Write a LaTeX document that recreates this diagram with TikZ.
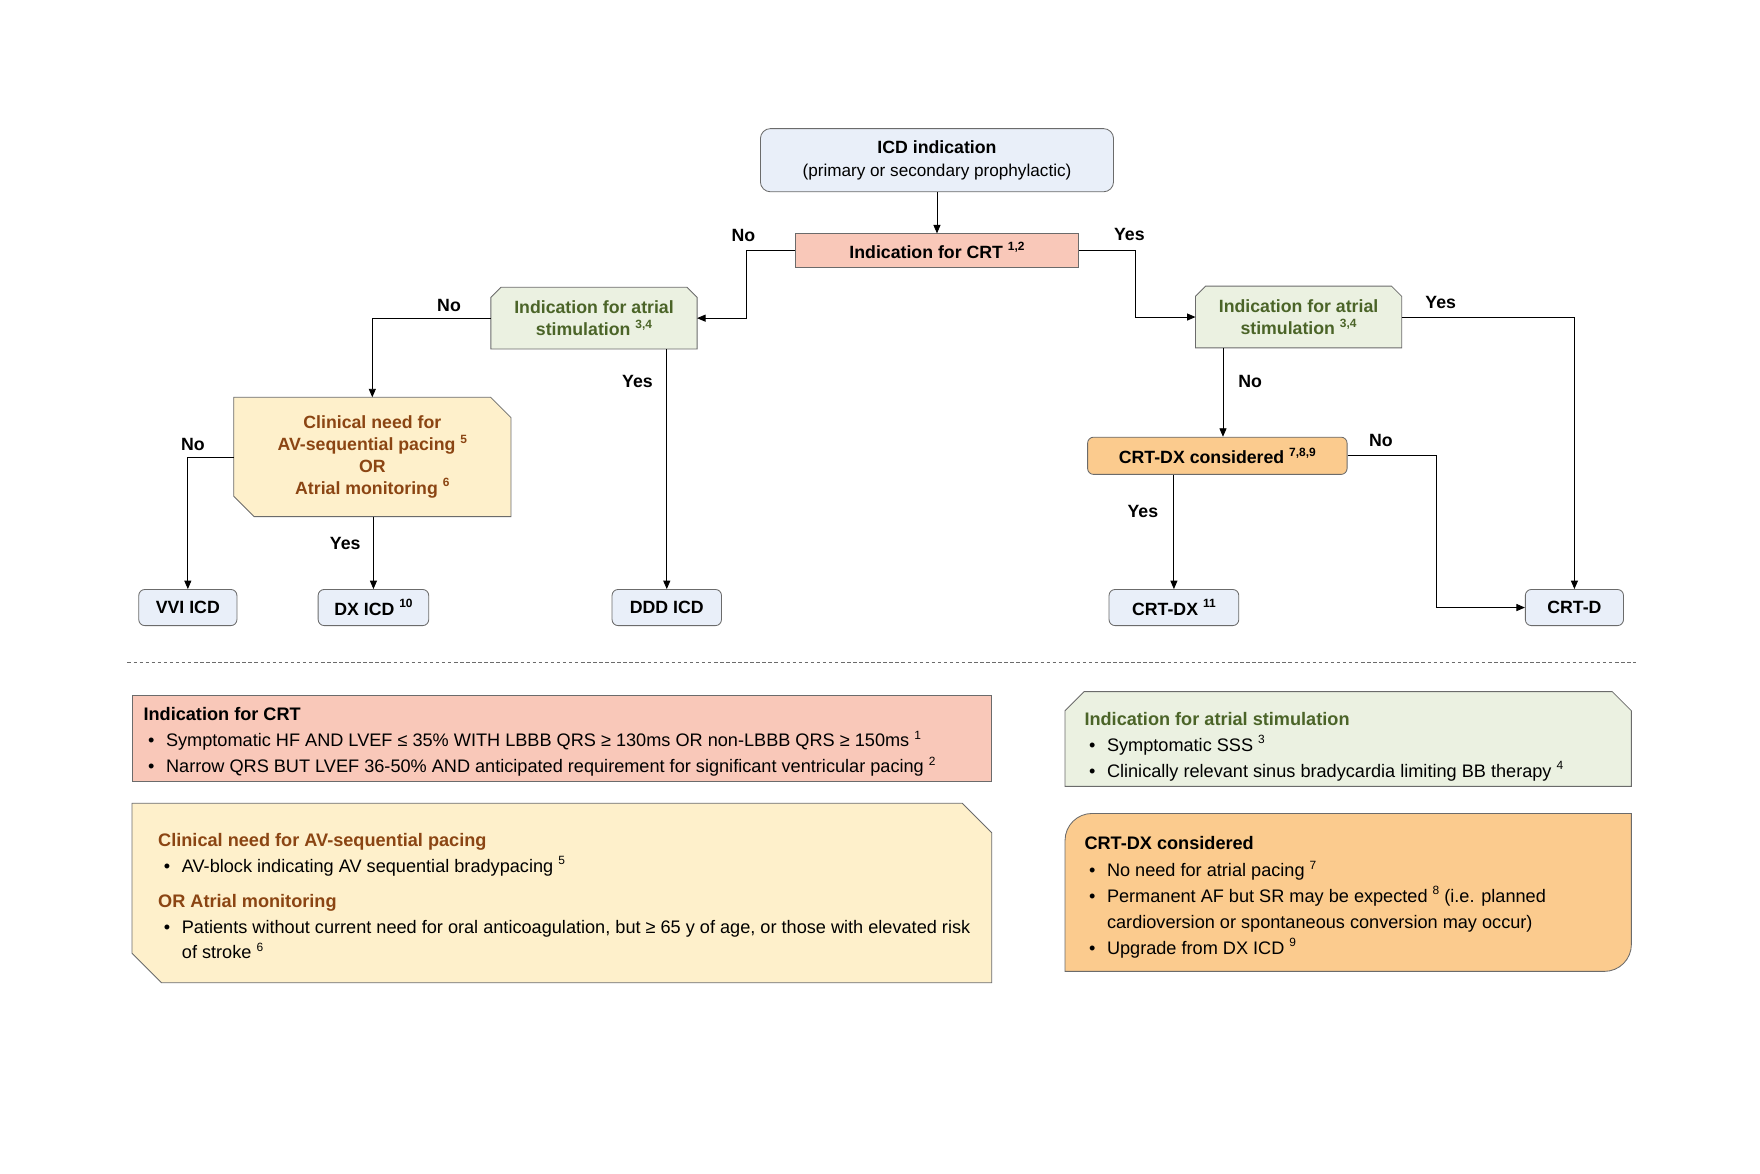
\documentclass[tikz,border=0pt]{standalone}
\usepackage{fontspec}
\setmainfont{Liberation Sans}
\usetikzlibrary{arrows.meta,backgrounds,positioning}

\definecolor{framegray}{HTML}{6B6B6B}
\definecolor{devblue}{HTML}{E9EFF9}
\definecolor{crtpink}{HTML}{F9C8B9}
\definecolor{atrialfill}{HTML}{EBF1E1}
\definecolor{atrialtext}{HTML}{4B6428}
\definecolor{needfill}{HTML}{FEF0CB}
\definecolor{needtext}{HTML}{8B4513}
\definecolor{dxorange}{HTML}{FBCB8E}

\newcommand{\px}{0.0282cm}
\newcommand{\refnum}[1]{\raisebox{0.42em}{\fontsize{8.5}{8.5}\selectfont #1}}
\newcommand{\bul}{\makebox[12.8pt][l]{\textbullet}}

\tikzset{
  box/.style={draw=framegray, line width=0.6pt, align=center, inner sep=0pt,
    font=\fontsize{12.6}{16.8}\selectfont\bfseries},
  icdbox/.style={box, fill=devblue, rounded corners=0.25cm,
    minimum width=313*\px, minimum height=56*\px},
  crtbox/.style={box, fill=crtpink, minimum width=251*\px, minimum height=29.5*\px},
  % chamfered frames are drawn on the background layer
  atrialbox/.style={box, draw=none, text=atrialtext, font=\fontsize{12.6}{16}\selectfont\bfseries,
    minimum width=182*\px, minimum height=54*\px},
  needbox/.style={box, draw=none, text=needtext, font=\fontsize{12.6}{15.5}\selectfont\bfseries,
    minimum width=245*\px, minimum height=105*\px},
  chamframe/.style={draw=framegray, line width=0.6pt},
  dxcbox/.style={box, fill=dxorange, rounded corners=0.15cm,
    minimum width=230*\px, minimum height=33*\px},
  devbox/.style={box, fill=devblue, rounded corners=0.15cm, minimum height=32*\px},
  lbl/.style={inner sep=0pt, font=\fontsize{12.6}{15}\selectfont\bfseries},
  flow/.style={line width=0.6pt, -{Triangle[length=6pt,width=5pt]}},
  legbox/.style={draw=framegray, line width=0.6pt},
  legtitle/.style={anchor=base west, inner sep=0pt, font=\fontsize{12.9}{15}\selectfont\bfseries},
  legitem/.style={anchor=base west, inner sep=0pt, font=\fontsize{12.9}{15}\selectfont},
}

\begin{document}
\begin{tikzpicture}[x=0.0282cm, y=-0.0282cm]
\useasboundingbox (0,0) rectangle (1560,1040);

% flowchart
\node[icdbox] (icd) at (830.5,142) {ICD indication\\{\mdseries\fontsize{12.2}{16.8}\selectfont (primary or secondary prophylactic)}};
\node[crtbox] (crt) at (830.5,222) {Indication for CRT \refnum{1,2}};
\node[atrialbox] (atl) at (526.5,282) {Indication for atrial\\stimulation \refnum{3,4}};
\node[atrialbox] (atr) at (1151,281) {Indication for atrial\\stimulation \refnum{3,4}};
\node[needbox] (need) at (330,405) {Clinical need for\\AV-sequential pacing \refnum{5}\\OR\\Atrial monitoring \refnum{6}};
\node[dxcbox] (dxc) at (1079,404) {CRT-DX considered \refnum{7,8,9}};

\node[devbox, minimum width=87*\px] (vvi) at (166.5,538.5) {VVI ICD};
\node[devbox, minimum width=98*\px] (dx) at (331,538.5) {DX ICD \refnum{10}};
\node[devbox, minimum width=97*\px] (ddd) at (591,538.5) {DDD ICD};
\node[devbox, minimum width=115*\px] (crtdx) at (1040.5,538.5) {CRT-DX \refnum{11}};
\node[devbox, minimum width=87*\px] (crtd) at (1395.5,538.5) {CRT-D};

\begin{scope}[on background layer]
\foreach \n in {atl,atr}
  \draw[chamframe, fill=atrialfill] (\n.south west) -- ([yshift=-9*\px]\n.north west)
    -- ([xshift=9*\px]\n.north west) -- ([xshift=-9*\px]\n.north east)
    -- ([yshift=-9*\px]\n.north east) -- (\n.south east) -- cycle;
\draw[chamframe, fill=needfill] (need.north west) -- ([xshift=-18*\px]need.north east)
  -- ([yshift=-18*\px]need.north east) -- (need.south east)
  -- ([xshift=18*\px]need.south west) -- ([yshift=18*\px]need.south west) -- cycle;
\end{scope}

\coordinate (dxin) at (1084,0);

\draw[flow] (icd) -- (crt);
\draw[flow] (crt.west) -- ++(-43,0) |- (atl.east);
\draw[flow] (crt.east) -- ++(50,0) |- (atr.west);
\draw[flow] (atl.west) -| (need.north);
\draw[flow] (atl.south -| ddd) -- (ddd);
\draw[flow] (need.west) -| (vvi.north);
\draw[flow] (need.south -| dx) -- (dx);
\draw[flow] (atr.east) -| (crtd.north);
\draw[flow] (atr.south -| dxin) -- (dxc.north -| dxin);
\draw[flow] (dxc.east) -- ++(79,0) |- (crtd.west);
\draw[flow] (dxc.south -| crtdx) -- (crtdx);

\node[lbl] (crtno) at (659,209) {No};
\node[lbl] (crtyes) at (1001,208) {Yes};
\node[lbl] (atlno) at (398,271) {No};
\node[lbl] (atlyes) at (565,338) {Yes};
\node[lbl] (needno) at (171,394) {No};
\node[lbl] (needyes) at (306,482) {Yes};
\node[lbl] (atryes) at (1277,268) {Yes};
\node[lbl] (atrno) at (1108,338) {No};
\node[lbl] (dxcno) at (1224,390) {No};
\node[lbl] (dxcyes) at (1013,453) {Yes};

\draw[framegray, line width=0.6pt, dash pattern=on 2.5pt off 1.8pt] (113,587) -- (1450,587);

% legend
\draw[legbox, fill=crtpink] (117,616) rectangle (879,693);
\node[legtitle] (crtlegt) at (127,639) {Indication for CRT};
\node[legitem] (crtlega) at (131,662) {\bul Symptomatic HF AND LVEF ≤ 35\% WITH LBBB QRS ≥ 130ms OR non-LBBB QRS ≥ 150ms \refnum{1}};
\node[legitem] (crtlegb) at (131,685) {\bul Narrow QRS BUT LVEF 36-50\% AND anticipated requirement for significant ventricular pacing \refnum{2}};

\draw[legbox, fill=needfill] (117,712) -- (853,712) -- (879,738) -- (879,871) -- (143,871) -- (117,845) -- cycle;
\node[legtitle, text=needtext] (needlegt) at (140,750) {Clinical need for AV-sequential pacing};
\node[legitem] (needlega) at (145,773) {\bul AV-block indicating AV sequential bradypacing \refnum{5}};
\node[legtitle, text=needtext] (needlegu) at (140,804) {OR Atrial monitoring};
\node[legitem] (needlegb) at (145,827) {\bul Patients without current need for oral anticoagulation, but ≥ 65 y of age, or those with elevated risk};
\node[legitem] (needlegc) at (161,850) {of stroke \refnum{6}};

\draw[legbox, fill=atrialfill] (944,630) -- (961,613) -- (1429,613) -- (1446,630) -- (1446,697) -- (944,697) -- cycle;
\node[legtitle, text=atrialtext] (atrlegt) at (961,643) {Indication for atrial stimulation};
\node[legitem] (atrlega) at (965,666) {\bul Symptomatic SSS \refnum{3}};
\node[legitem] (atrlegb) at (965,689) {\bul Clinically relevant sinus bradycardia limiting BB therapy \refnum{4}};

\draw[legbox, fill=dxorange] (944,861) -- (944,745) .. controls (944,731.7) and (954.7,721) .. (968,721)
  -- (1446,721) -- (1446,837) .. controls (1446,850.3) and (1435.3,861) .. (1422,861) -- cycle;
\node[legtitle] (dxlegt) at (961,753) {CRT-DX considered};
\node[legitem] (dxlega) at (965,777) {\bul No need for atrial pacing \refnum{7}};
\node[legitem] (dxlegb) at (965,800) {\bul Permanent AF but SR may be expected \refnum{8} (i.e. planned};
\node[legitem] (dxlegc) at (981,823) {cardioversion or spontaneous conversion may occur)};
\node[legitem] (dxlegd) at (965,846) {\bul Upgrade from DX ICD \refnum{9}};
\end{tikzpicture}
\end{document}
